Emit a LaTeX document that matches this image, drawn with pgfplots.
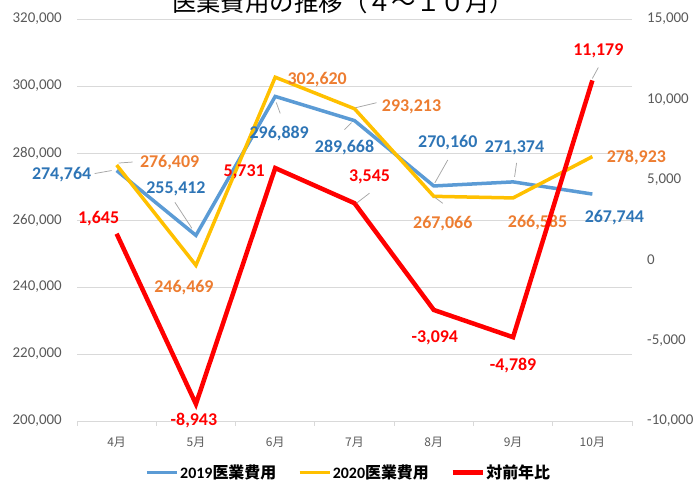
\documentclass[border=0pt]{standalone}
\usepackage{pgfplots}
\pgfplotsset{compat=1.18}
\usepackage{fontspec}
\setmainfont{Carlito}
\newfontfamily\cjk{Noto Sans CJK JP}
\definecolor{cBlue}{HTML}{5B9BD5}
\definecolor{cYel}{HTML}{FFC000}
\definecolor{cRed}{HTML}{FF0000}
\definecolor{lBlue}{HTML}{2E75B6}
\definecolor{lOr}{HTML}{ED7D31}
\definecolor{tickc}{HTML}{595959}
\definecolor{gridc}{HTML}{D9D9D9}
\definecolor{leadc}{HTML}{A6A6A6}
\tikzset{
  lb/.style={font=\fontsize{18}{18}\selectfont\bfseries, inner sep=0pt, anchor=center},
  ld/.style={leadc, line width=0.75bp},
}
\begin{document}
\begin{tikzpicture}
\pgfplotsset{
  common/.style={at={(77bp,62bp)}, anchor=south west, scale only axis,
    width=555bp, height=402bp, xmin=-0.5, xmax=6.5, clip=false,
    scaled y ticks=false,
    yticklabel={\pgfmathprintnumber[fixed, 1000 sep={,}, assume math mode=true]{\tick}}},
}
\node[anchor=base, font=\cjk\fontsize{24.5}{24.5}\selectfont] at (343bp,471.5bp) {医業費用の推移（４～１０月）};
\begin{axis}[common,
  ymin=200000, ymax=320000, ytick={200000,220000,...,320000},
  axis x line*=bottom, axis y line*=left,
  y axis line style={draw=none}, x axis line style={draw=gridc, line width=0.8bp},
  ymajorgrids, grid style={gridc, line width=0.8bp},
  xtick={0,1,2,3,4,5,6},
  xticklabels={{4月},{5月},{6月},{7月},{8月},{9月},{10月}},
  minor xtick={-0.5,0.5,1.5,2.5,3.5,4.5,5.5,6.5},
  major tick length=0pt, minor tick length=5bp, tick align=outside,
  every tick/.style={gridc, line width=0.8bp},
  xticklabel style={font=\cjk\fontsize{12}{12}\selectfont, text=tickc, inner sep=0pt, anchor=center, yshift=-21bp},
  yticklabel style={font=\fontsize{15}{15}\selectfont, text=tickc, inner sep=0pt, anchor=east, xshift=-15bp},
  legend style={at={(axis description cs:0.489,-0.128)}, anchor=center, draw=none, fill=none,
    legend columns=3, font=\fontsize{16}{16}\selectfont\bfseries,
    /tikz/every even column/.append style={column sep=20bp}, nodes={inner xsep=1.5bp}},
  legend image code/.code={\draw[#1] (0bp,0bp) -- (30bp,0bp);},
]
\addplot[cBlue, line width=3.5bp] coordinates {(0,274764) (1,255412) (2,296889) (3,289668) (4,270160) (5,271374) (6,267744)};
\addlegendentry{2019{\cjk 医業費用}}
\addplot[cYel, line width=3.5bp] coordinates {(0,276409) (1,246469) (2,302620) (3,293213) (4,267066) (5,266585) (6,278923)};
\addlegendentry{2020{\cjk 医業費用}}
\addlegendimage{cRed, line width=4.5bp}
\addlegendentry{{\cjk 対前年比}}
% blue labels
\node[lb, text=lBlue] at ([xshift=-55bp,yshift=-4.5bp]axis cs:0,274764) {274,764};
\node[lb, text=lBlue] at ([xshift=-20bp,yshift=47bp]axis cs:1,255412) {255,412};
\node[lb, text=lBlue] at ([xshift=4bp,yshift=-37bp]axis cs:2,296889) {296,889};
\node[lb, text=lBlue] at ([xshift=-10bp,yshift=-27bp]axis cs:3,289668) {289,668};
\node[lb, text=lBlue] at ([xshift=14bp,yshift=43bp]axis cs:4,270160) {270,160};
\node[lb, text=lBlue] at ([xshift=1.5bp,yshift=34bp]axis cs:5,271374) {271,374};
\node[lb, text=lBlue] at ([xshift=22bp,yshift=-24bp]axis cs:6,267744) {267,744};
% orange labels
\node[lb, text=lOr] at ([xshift=53bp,yshift=2bp]axis cs:0,276409) {276,409};
\node[lb, text=lOr] at ([xshift=-12bp,yshift=-22bp]axis cs:1,246469) {246,469};
\node[lb, text=lOr] at ([xshift=42bp,yshift=-2bp]axis cs:2,302620) {302,620};
\node[lb, text=lOr] at ([xshift=57bp,yshift=2bp]axis cs:3,293213) {293,213};
\node[lb, text=lOr] at ([xshift=9bp,yshift=-27bp]axis cs:4,267066) {267,066};
\node[lb, text=lOr] at ([xshift=24.5bp,yshift=-25bp]axis cs:5,266585) {266,585};
\node[lb, text=lOr] at ([xshift=44bp,yshift=-1bp]axis cs:6,278923) {278,923};
% leaders
\draw[ld] ([xshift=-22bp,yshift=-3bp]axis cs:0,274764) -- ([xshift=-5bp,yshift=0bp]axis cs:0,274764);
\draw[ld] ([xshift=-21bp,yshift=33bp]axis cs:1,255412) -- ([xshift=-4bp,yshift=7bp]axis cs:1,255412);
\draw[ld] ([xshift=1bp,yshift=-6bp]axis cs:2,296889) -- ([xshift=5bp,yshift=-17bp]axis cs:2,296889);
\draw[ld] ([xshift=-10bp,yshift=-9bp]axis cs:3,289668) -- ([xshift=-3bp,yshift=-2bp]axis cs:3,289668);
\draw[ld] ([xshift=14bp,yshift=26bp]axis cs:4,270160) -- ([xshift=1bp,yshift=3bp]axis cs:4,270160);
\draw[ld] ([xshift=3.5bp,yshift=19bp]axis cs:5,271374) -- ([xshift=1.5bp,yshift=5bp]axis cs:5,271374);
\draw[ld] ([xshift=2bp,yshift=2bp]axis cs:0,276409) -- ([xshift=16bp,yshift=3bp]axis cs:0,276409);
\draw[ld] ([xshift=1bp,yshift=1bp]axis cs:3,293213) -- ([xshift=22bp,yshift=6bp]axis cs:3,293213);
\draw[ld] ([xshift=1bp,yshift=-1bp]axis cs:4,267066) -- ([xshift=9bp,yshift=-7bp]axis cs:4,267066);
\end{axis}
\begin{axis}[common,
  ymin=-10000, ymax=15000, ytick={-10000,-5000,0,5000,10000,15000},
  axis y line*=right, axis x line=none,
  y axis line style={draw=none}, ytick style={draw=none}, major tick length=0pt,
  yticklabel style={font=\fontsize{15}{15}\selectfont, text=tickc, inner sep=0pt, anchor=west, xshift=15bp},
]
\addplot[cRed, line width=4.5bp] coordinates {(0,1645) (1,-8943) (2,5731) (3,3545) (4,-3094) (5,-4789) (6,11179)};
\node[lb, text=cRed] at ([xshift=-18bp,yshift=15bp]axis cs:0,1645) {1,645};
\node[lb, text=cRed] at ([xshift=-2bp,yshift=-17bp]axis cs:1,-8943) {-8,943};
\node[lb, text=cRed] at ([xshift=-31bp,yshift=-4bp]axis cs:2,5731) {5,731};
\node[lb, text=cRed] at ([xshift=15bp,yshift=26bp]axis cs:3,3545) {3,545};
\node[lb, text=cRed] at ([xshift=1bp,yshift=-28bp]axis cs:4,-3094) {-3,094};
\node[lb, text=cRed] at ([xshift=0bp,yshift=-28bp]axis cs:5,-4789) {-4,789};
\node[lb, text=cRed] at ([xshift=6bp,yshift=30bp]axis cs:6,11179) {11,179};
\draw[ld] ([xshift=2bp,yshift=0bp]axis cs:3,3545) -- ([xshift=15bp,yshift=10bp]axis cs:3,3545);
\draw[ld] ([xshift=0bp,yshift=2bp]axis cs:6,11179) -- ([xshift=6bp,yshift=13bp]axis cs:6,11179);
\end{axis}
\pgfresetboundingbox
\path[use as bounding box] (0,0) rectangle (694bp,483bp);
\end{tikzpicture}
\end{document}
